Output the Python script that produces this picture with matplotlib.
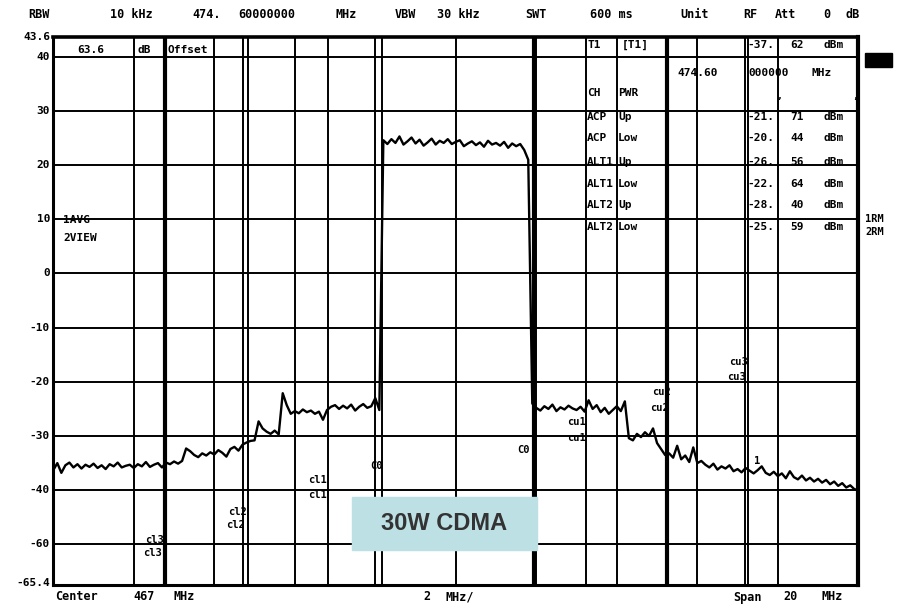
import numpy as np
import matplotlib
matplotlib.use("Agg")
import matplotlib.pyplot as plt
from matplotlib.patches import Rectangle

# ---------------- data ----------------
span_start_mhz = -10.0   # offset from center 467 MHz
span_step_mhz = 0.1
trace_dbm = [
    -36.3, -35.0, -36.8, -35.4, -34.9, -35.8, -35.2, -36.0, -35.3, -35.7,
    -35.1, -35.9, -35.4, -36.1, -35.2, -35.6, -34.9, -35.8, -35.5, -35.3,
    -35.9, -35.2, -35.6, -34.8, -35.7, -35.3, -35.0, -35.8, -34.9, -35.2,
    -34.7, -35.1, -34.6, -32.3, -32.8, -33.5, -33.9, -33.2, -33.6, -33.0,
    -33.4, -32.6, -33.1, -33.8, -32.4, -32.0, -32.7, -31.6, -31.2, -30.9,
    -30.8, -27.3, -28.6, -29.2, -29.6, -29.0, -29.7, -22.1, -24.3, -25.9,
    -25.4, -25.8, -25.1, -25.6, -25.3, -25.9, -25.5, -27.0, -25.2, -24.6,
    -24.3, -25.0, -24.4, -24.9, -24.2, -25.3, -24.6, -24.1, -24.8, -24.5,
    -23.0, -25.2, 24.6, 23.9, 24.8, 24.1, 25.3, 23.8, 24.4, 25.1,
    24.0, 24.7, 23.6, 24.2, 24.9, 23.8, 24.5, 24.1, 24.8, 23.9,
    24.3, 24.6, 23.5, 24.0, 24.4, 23.7, 24.2, 23.4, 24.5, 23.8,
    24.1, 23.6, 24.3, 23.2, 24.0, 23.5, 23.9, 22.8, 21.0, -24.0,
    -24.8, -25.3, -24.5, -25.0, -24.2, -25.4, -24.7, -25.1, -24.4, -24.9,
    -25.2, -24.6, -25.5, -23.4, -25.0, -24.3, -25.6, -24.8, -25.9, -25.2,
    -24.5, -25.4, -23.6, -30.4, -30.8, -29.6, -30.2, -29.3, -30.0, -28.6,
    -31.3, -32.4, -33.5, -33.2, -34.0, -31.8, -34.3, -33.6, -34.8, -32.1,
    -35.0, -34.6, -35.3, -35.8, -35.1, -36.2, -35.6, -36.0, -35.4, -36.5,
    -36.1, -36.7, -35.9, -36.4, -36.9, -36.3, -35.6, -36.8, -37.2, -36.6,
    -37.4, -36.9, -37.8, -36.5, -37.6, -38.0, -37.3, -38.2, -37.7, -38.4,
    -37.9, -38.6, -38.1, -38.9, -38.4, -39.2, -38.7, -39.5, -39.1, -39.8, -40.0,
]
freq_mhz = span_start_mhz + span_step_mhz * np.arange(len(trace_dbm))

y_gridlines = [40, 30, 20, 10, 0, -10, -20, -30, -40, -50]
y_labels = ["40", "30", "20", "10", "0", "-10", "-20", "-30", "-40", "-60"]
ref_top = 43.6
y_bottom = -57.5
x_gridlines = [-8, -6, -4, -2, 0, 2, 4, 6, 8]
# channel boundary lines (MHz offset, width pt)
chan_lines = [(-7.22, 3.0), (-5.28, 1.4), (-5.16, 1.4), (-3.17, 1.4), (-1.84, 1.4),
              (1.95, 3.0), (3.23, 1.4), (5.24, 3.0), (7.18, 1.4), (7.27, 1.4)]

table_names = [("ACP", "Up"), ("ACP", "Low"), ("ALT1", "Up"), ("ALT1", "Low"),
               ("ALT2", "Up"), ("ALT2", "Low")]
table_int = ["-21.", "-20.", "-26.", "-22.", "-28.", "-25."]
table_dec = ["71", "44", "56", "64", "40", "59"]

# ---------------- figure ----------------
W, H = 899, 608
fig = plt.figure(figsize=(W / 100, H / 100), dpi=100)
fig.patch.set_facecolor("white")

PL, PR, PT, PB = 53.3, 858.3, 37.3, 585.0
ax = fig.add_axes([PL / W, (H - PB) / H, (PR - PL) / W, (PB - PT) / H])
ax.set_xlim(-10, 10)
ax.set_ylim(y_bottom, ref_top)
ax.set_xticks([])
ax.set_yticks([])
for side, lw in [("left", 2.2), ("top", 2.6), ("right", 3.0), ("bottom", 2.2)]:
    ax.spines[side].set_linewidth(lw)
    ax.spines[side].set_color("black")

for v in y_gridlines:
    ax.axhline(v, color="black", lw=1.4, zorder=1)
for v in x_gridlines:
    ax.axvline(v, color="black", lw=1.4, zorder=1)
for v, lw in chan_lines:
    ax.axvline(v, color="black", lw=lw, zorder=1)

ax.plot(freq_mhz, trace_dbm, color="black", lw=1.7, zorder=3)

PF = dict(family="DejaVu Sans Mono", weight="bold", color="black")


def txt(x, y, s, size=8, ha="left", **kw):
    d = dict(PF)
    d.update(kw)
    fig.text(x / W, 1 - y / H, s, ha=ha, va="center", fontsize=size, **d)


# header
for s, x in [("RBW", 28), ("10 kHz", 110), ("474.", 192), ("60000000", 238), ("MHz", 335),
             ("VBW", 395), ("30 kHz", 437), ("SWT", 525), ("600 ms", 590), ("Unit", 680),
             ("RF", 743), ("Att", 775), ("0", 823), ("dB", 845)]:
    txt(x, 15, s, size=8.5)

# y labels
txt(50, 37, "43.6", ha="right")
for v, lab in zip(y_gridlines, y_labels):
    ypix = PB - (v - y_bottom) / (ref_top - y_bottom) * (PB - PT)
    txt(50, ypix, lab, ha="right")
txt(50, 583, "-65.4", ha="right")

# bottom
for s, x in [("Center", 55), ("467", 133), ("MHz", 173), ("2", 423), ("MHz/", 445),
             ("Span", 733), ("20", 783), ("MHz", 822)]:
    txt(x, 597, s, size=8.5)

# offset / trace info
txt(77, 50, "63.6")
txt(137, 50, "dB")
txt(167, 50, "Offset")
txt(63, 220, "1AVG")
txt(63, 238, "2VIEW")
txt(865, 219, "1RM", size=7.5)
txt(865, 232, "2RM", size=7.5)
fig.patches.append(Rectangle((865 / W, 1 - 67 / H), 27 / W, 14 / H,
                             transform=fig.transFigure, color="black"))

# marker table
txt(588, 45, "T1")
txt(622, 45, "[T1]")
txt(747, 45, "-37.")
txt(790, 45, "62")
txt(823, 45, "dBm")
txt(677, 73, "474.60")
txt(748, 73, "000000")
txt(812, 73, "MHz")
txt(587, 93, "CH")
txt(618, 93, "PWR")
txt(776, 96, ",", size=7)
txt(852, 96, ",", size=7)
row_y = [117, 138, 162, 184, 205, 227]
for (a, b), vi, vd, y in zip(table_names, table_int, table_dec, row_y):
    txt(587, y, a)
    txt(618, y, b)
    txt(747, y, vi)
    txt(790, y, vd)
    txt(823, y, "dBm")

# channel labels
for s, x, y in [("cl3", 145, 540), ("cl3", 143, 553), ("cl2", 228, 512), ("cl2", 226, 525),
                ("cl1", 308, 480), ("cl1", 308, 495), ("C0", 370, 466), ("C0", 517, 450),
                ("cu1", 567, 422), ("cu1", 567, 438), ("cu2", 652, 392), ("cu2", 650, 408),
                ("cu3", 729, 362), ("cu3", 727, 377), ("1", 754, 461)]:
    txt(x, y, s, size=7.5)

# highlighted caption box
fig.patches.append(Rectangle((352 / W, 1 - 550 / H), 185 / W, 53 / H,
                             transform=fig.transFigure, color="#bce0e4", zorder=10))
fig.text(444.5 / W, 1 - 523.5 / H, "30W CDMA", ha="center", va="center",
         fontsize=17, weight="bold", family="Liberation Sans", color="#333333", zorder=11)

fig.savefig("out.png", dpi=100)
